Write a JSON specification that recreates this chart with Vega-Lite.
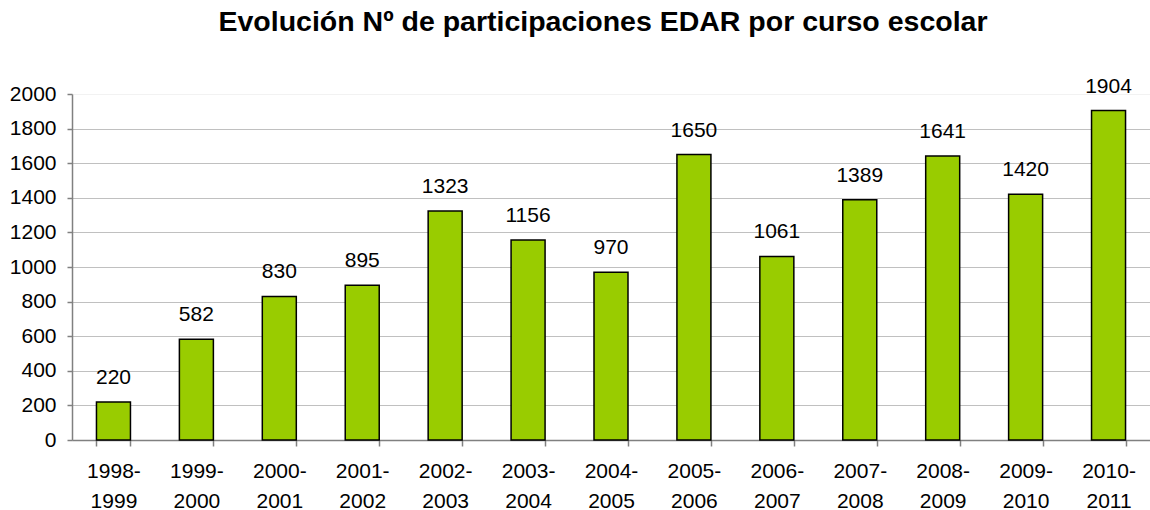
{
  "$schema": "https://vega.github.io/schema/vega-lite/v6.json",
  "width": 1078,
  "height": 346,
  "autosize": {"type": "none"},
  "padding": {"left": 72, "top": 94, "right": 0, "bottom": 70},
  "background": "white",
  "config": {
    "font": "Liberation Sans",
    "view": {"stroke": null}
  },
  "title": {
    "text": "Evolución Nº de participaciones EDAR por curso escolar",
    "font": "Liberation Sans",
    "fontSize": 28.5,
    "fontWeight": "bold",
    "color": "#000000",
    "anchor": "middle",
    "frame": "group",
    "baseline": "alphabetic",
    "offset": 16,
    "dx": -8
  },
  "data": {
    "values": [
      {"curso": "1998- 1999", "n": 220},
      {"curso": "1999- 2000", "n": 582},
      {"curso": "2000- 2001", "n": 830},
      {"curso": "2001- 2002", "n": 895},
      {"curso": "2002- 2003", "n": 1323},
      {"curso": "2003- 2004", "n": 1156},
      {"curso": "2004- 2005", "n": 970},
      {"curso": "2005- 2006", "n": 1650},
      {"curso": "2006- 2007", "n": 1061},
      {"curso": "2007- 2008", "n": 1389},
      {"curso": "2008- 2009", "n": 1641},
      {"curso": "2009- 2010", "n": 1420},
      {"curso": "2010- 2011", "n": 1904}
    ]
  },
  "encoding": {
    "x": {
      "field": "curso",
      "type": "nominal",
      "sort": null,
      "scale": {"paddingInner": 0.59, "paddingOuter": 0.295},
      "axis": {
        "title": null,
        "labelAngle": 0,
        "labelExpr": "split(datum.label, ' ')",
        "labelFontSize": 21,
        "labelColor": "#000000",
        "labelLineHeight": 30,
        "labelPadding": 14,
        "labelBaseline": "top",
        "domainColor": "#808080",
        "domainWidth": 1.5,
        "tickColor": "#808080",
        "tickWidth": 1.5,
        "tickSize": 6,
        "tickBand": "extent",
        "grid": false
      }
    },
    "y": {
      "field": "n",
      "type": "quantitative",
      "scale": {"domain": [0, 2000]},
      "axis": {
        "title": null,
        "format": "d",
        "values": [0, 200, 400, 600, 800, 1000, 1200, 1400, 1600, 1800, 2000],
        "labelFontSize": 21,
        "labelColor": "#000000",
        "labelPadding": 11,
        "domainColor": "#808080",
        "domainWidth": 1.5,
        "tickColor": "#808080",
        "tickWidth": 1.5,
        "tickSize": 5,
        "grid": true,
        "gridColor": {"condition": {"test": "datum.value == 2000", "value": "#f2f2f2"}, "value": "#c0c0c0"},
        "gridWidth": 1
      }
    }
  },
  "layer": [
    {
      "mark": {"type": "bar", "color": "#99cc00", "stroke": "#000000", "strokeWidth": 1.5}
    },
    {
      "mark": {"type": "text", "baseline": "alphabetic", "dy": -18, "fontSize": 21, "color": "#000000"},
      "encoding": {"text": {"field": "n", "type": "quantitative", "format": "d"}}
    }
  ]
}
